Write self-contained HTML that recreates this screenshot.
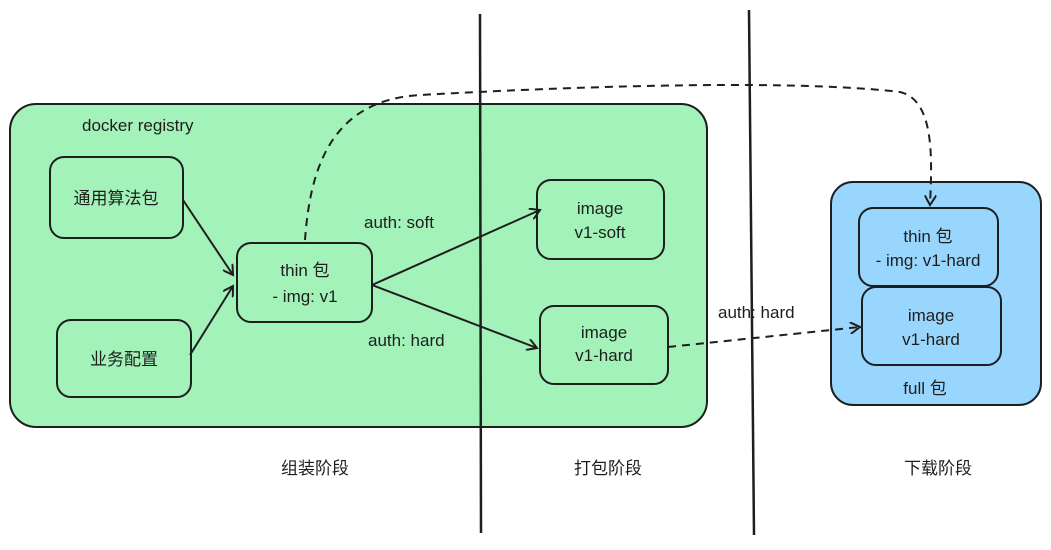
<!DOCTYPE html>
<html><head><meta charset="utf-8"><style>
body{margin:0;background:#fff;}
svg text{font-family:"Liberation Sans","Noto Sans CJK SC",sans-serif;fill:#1e1e1e;}
</style></head><body>
<svg width="1051" height="545" viewBox="0 0 1051 545" xmlns="http://www.w3.org/2000/svg">
<defs>
<marker id="a" markerWidth="12" markerHeight="12" refX="10" refY="6" orient="auto" markerUnits="userSpaceOnUse">
<path d="M0,0 L10,6 L0,12" fill="none" stroke="#1e1e1e" stroke-width="2"/></marker>
</defs>
<rect x="10" y="104" width="697" height="323" rx="26" fill="#a3f2b9" stroke="#1e1e1e" stroke-width="2"/>
<rect x="831" y="182" width="210" height="223" rx="22" fill="#99d6fd" stroke="#1e1e1e" stroke-width="2"/>
<g fill="#a3f2b9" stroke="#1e1e1e" stroke-width="2">
<rect x="50" y="157" width="133" height="81" rx="14"/>
<rect x="57" y="320" width="134" height="77" rx="14"/>
<rect x="237" y="243" width="135" height="79" rx="14"/>
<rect x="537" y="180" width="127" height="79" rx="14"/>
<rect x="540" y="306" width="128" height="78" rx="14"/>
</g>
<g fill="#99d6fd" stroke="#1e1e1e" stroke-width="2">
<rect x="859" y="208" width="139" height="78" rx="14"/>
<rect x="862" y="287" width="139" height="78" rx="14"/>
</g>
<line x1="480" y1="14" x2="481" y2="533" stroke="#1e1e1e" stroke-width="2.5"/>
<line x1="749" y1="10" x2="754" y2="535" stroke="#1e1e1e" stroke-width="2.5"/>
<g stroke="#1e1e1e" stroke-width="2" fill="none" marker-end="url(#a)">
<line x1="183" y1="200" x2="233" y2="275"/>
<line x1="190" y1="355" x2="233" y2="286"/>
<line x1="372" y1="285" x2="540" y2="210"/>
<line x1="372" y1="285" x2="537" y2="348"/>
<path d="M668,347 L860,327" stroke-dasharray="8,6"/>
<path d="M305,240 C310,170 330,100 420,95 C600,85 800,80 900,92 C935,100 932,160 930,205" stroke-dasharray="8,6"/>
</g>
<g font-size="17">
<text x="82" y="131">docker registry</text>
<text x="116" y="204" text-anchor="middle">通用算法包</text>
<text x="124" y="365" text-anchor="middle">业务配置</text>
<text x="305" y="276" text-anchor="middle">thin 包</text>
<text x="305" y="302" text-anchor="middle">- img: v1</text>
<text x="600" y="214" text-anchor="middle">image</text>
<text x="600" y="238" text-anchor="middle">v1-soft</text>
<text x="604" y="338" text-anchor="middle">image</text>
<text x="604" y="361" text-anchor="middle">v1-hard</text>
<text x="928" y="242" text-anchor="middle">thin 包</text>
<text x="928" y="266" text-anchor="middle">- img: v1-hard</text>
<text x="931" y="321" text-anchor="middle">image</text>
<text x="931" y="345" text-anchor="middle">v1-hard</text>
<text x="925" y="394" text-anchor="middle">full 包</text>
<text x="364" y="228">auth: soft</text>
<text x="368" y="346">auth: hard</text>
<text x="718" y="318">auth: hard</text>
<text x="315" y="474" text-anchor="middle">组装阶段</text>
<text x="608" y="474" text-anchor="middle">打包阶段</text>
<text x="938" y="474" text-anchor="middle">下载阶段</text>
</g>
</svg>
</body></html>
